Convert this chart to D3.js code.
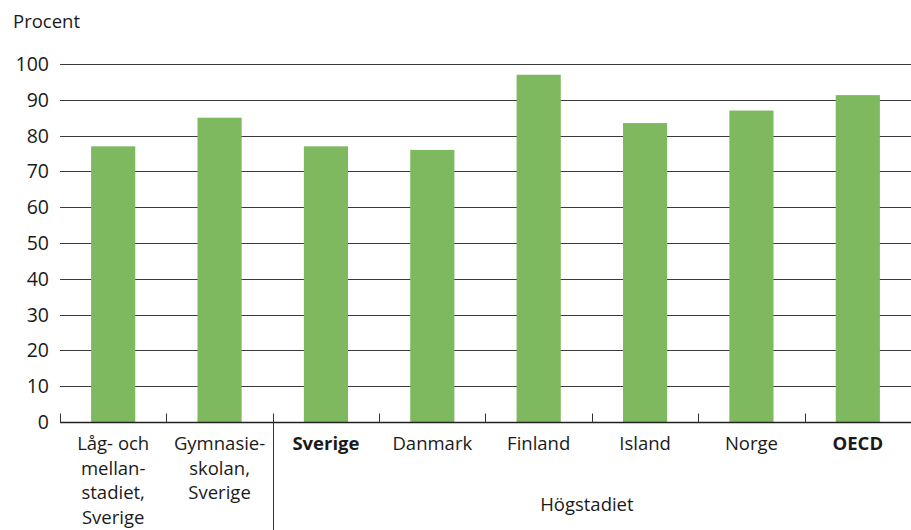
<!DOCTYPE html>
<html>
<head>
<meta charset="utf-8">
<script src="https://cdn.jsdelivr.net/npm/d3@7"></script>
<style>
  html, body { margin: 0; padding: 0; background: #fff; }
  svg { display: block; }
  text { font-family: "Open Sans", "Liberation Sans", sans-serif; fill: #1a1a1a; }
</style>
</head>
<body>
<svg id="chart" width="911" height="530"></svg>
<script>
// Share of pupils (percent), by school level and country
const categories = ["Låg- och mellan-stadiet, Sverige", "Gymnasie-skolan, Sverige", "Sverige", "Danmark", "Finland", "Island", "Norge", "OECD"];
const labelLines = [
  ["Låg- och", "mellan-", "stadiet,", "Sverige"],
  ["Gymnasie-", "skolan,", "Sverige"],
  ["Sverige"], ["Danmark"], ["Finland"], ["Island"], ["Norge"], ["OECD"]
];
const boldCategories = ["Sverige", "OECD"];
const values = [77, 85, 77, 76, 97, 83.5, 87, 91.3];
const yTicks = [0, 10, 20, 30, 40, 50, 60, 70, 80, 90, 100];
const yTitle = "Procent";
const groupLabel = "Högstadiet";
const groupStart = "Sverige";

const svg = d3.select("#chart");
const margin = { left: 60, right: 0, top: 64, bottom: 108 };
const W = 911, H = 530;

const x = d3.scaleBand()
  .domain(categories)
  .range([margin.left, W - margin.right])
  .paddingInner(0.585)
  .paddingOuter(0.2925);

const y = d3.scaleLinear()
  .domain([0, 100])
  .range([H - margin.bottom, margin.top]);

// gridlines
svg.append("g")
  .selectAll("line")
  .data(yTicks.filter(d => d > 0))
  .join("line")
  .attr("x1", margin.left)
  .attr("x2", W - margin.right)
  .attr("y1", d => Math.round(y(d)) + 0.5)
  .attr("y2", d => Math.round(y(d)) + 0.5)
  .attr("stroke", "#3a3a3a")
  .attr("stroke-width", 1);

// y tick labels
svg.append("g")
  .selectAll("text")
  .data(yTicks)
  .join("text")
  .attr("x", 49)
  .attr("y", d => y(d))
  .attr("dy", "0.36em")
  .attr("text-anchor", "end")
  .style("font-size", "19.5px")
  .text(d => d);

svg.append("text")
  .attr("x", 13)
  .attr("y", 28)
  .style("font-size", "18.5px")
  .text(yTitle);

// bars
svg.append("g")
  .selectAll("rect")
  .data(categories.map((c, i) => ({ c, v: values[i] })))
  .join("rect")
  .attr("x", d => x(d.c))
  .attr("width", x.bandwidth())
  .attr("y", d => y(d.v))
  .attr("height", d => y(0) - y(d.v))
  .attr("fill", "#7eb85f");

// baseline
const y0 = Math.round(y(0)) + 0.5;
svg.append("line")
  .attr("x1", margin.left).attr("x2", W - margin.right)
  .attr("y1", y0).attr("y2", y0)
  .attr("stroke", "#222").attr("stroke-width", 1.3);

// band boundary ticks
const step = x.step();
const boundaries = categories.map(c => x(c) - x.paddingOuter() * step);
svg.append("g")
  .selectAll("line")
  .data(boundaries)
  .join("line")
  .attr("x1", d => Math.round(d) + 0.5)
  .attr("x2", d => Math.round(d) + 0.5)
  .attr("y1", y0 - 9)
  .attr("y2", d => Math.abs(d - (x(groupStart) - x.paddingOuter() * step)) < 1 ? H : y0)
  .attr("stroke", "#333")
  .attr("stroke-width", 1);

// category labels
const lab = svg.append("g")
  .selectAll("text")
  .data(categories.map((c, i) => ({ c, lines: labelLines[i] })))
  .join("text")
  .attr("x", d => x(d.c) + x.bandwidth() / 2)
  .attr("y", 450)
  .attr("text-anchor", "middle")
  .style("font-size", "18.5px")
  .style("font-weight", d => boldCategories.includes(d.c) ? "bold" : "normal");

lab.selectAll("tspan")
  .data(d => d.lines)
  .join("tspan")
  .attr("x", function () { return d3.select(this.parentNode).attr("x"); })
  .attr("dy", (d, i) => i === 0 ? 0 : 24.5)
  .text(d => d);

// group label
const gx0 = x(groupStart) - x.paddingOuter() * step;
svg.append("text")
  .attr("x", (gx0 + W - margin.right) / 2 - 5)
  .attr("y", 511)
  .attr("text-anchor", "middle")
  .style("font-size", "18.5px")
  .text(groupLabel);
</script>
</body>
</html>
